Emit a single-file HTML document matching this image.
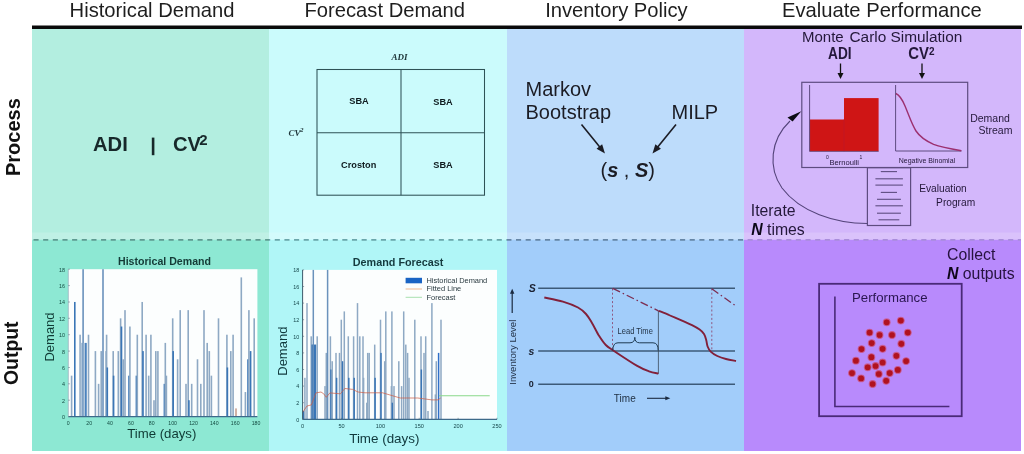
<!DOCTYPE html>
<html><head><meta charset="utf-8"><style>
html,body{margin:0;padding:0;background:#fff;width:1024px;height:454px;overflow:hidden}
svg{display:block;filter:blur(0.3px)}
text{font-family:"Liberation Sans", sans-serif}
</style></head><body>
<svg width="1024" height="454" viewBox="0 0 1024 454">
<rect x="0" y="0" width="1024" height="454" fill="#ffffff"/>

<rect x="32" y="29" width="237" height="211" fill="#b3eee0"/>
<rect x="32" y="240" width="237" height="211" fill="#8de8d3"/>
<rect x="269" y="29" width="238" height="211" fill="#cbfbfc"/>
<rect x="269" y="240" width="238" height="211" fill="#b0f6f7"/>
<rect x="507" y="29" width="237" height="211" fill="#bddcfb"/>
<rect x="507" y="240" width="237" height="211" fill="#a2cdfa"/>
<rect x="744" y="29" width="277" height="211" fill="#d3b7fb"/>
<rect x="744" y="240" width="277" height="211" fill="#b88afc"/>
<rect x="32" y="25.5" width="990" height="3.5" fill="#0a0a0a"/>
<text x="69.6" y="17" font-size="20.2" fill="#1e1e1e">Historical Demand</text>
<text x="304.5" y="17" font-size="20.2" fill="#1e1e1e">Forecast Demand</text>
<text x="545.2" y="17" font-size="20.2" fill="#1e1e1e">Inventory Policy</text>
<text x="782" y="17" font-size="20.2" fill="#1e1e1e">Evaluate Performance</text>
<rect x="32" y="232.5" width="989" height="6.5" fill="#ffffff" fill-opacity="0.16"/>
<line x1="32" y1="239.8" x2="269" y2="239.8" stroke="#5f9a91" stroke-width="1.8" stroke-dasharray="5.1 4.55" stroke-dashoffset="8.15"/>
<line x1="269" y1="239.8" x2="507" y2="239.8" stroke="#6aa6ab" stroke-width="1.8" stroke-dasharray="5.1 4.55" stroke-dashoffset="3.90"/>
<line x1="507" y1="239.8" x2="744" y2="239.8" stroke="#6686a6" stroke-width="1.8" stroke-dasharray="5.1 4.55" stroke-dashoffset="0.65"/>
<line x1="744" y1="239.8" x2="1021" y2="239.8" stroke="#a98ddb" stroke-width="1.8" stroke-dasharray="5.1 4.55" stroke-dashoffset="6.05"/>
<text transform="translate(19.6,176) rotate(-90)" font-size="20" font-weight="bold" fill="#111">Process</text>
<text transform="translate(17.8,385) rotate(-90)" font-size="19.4" font-weight="bold" fill="#111">Output</text>
<text x="93" y="151.2" font-size="20.2" font-weight="bold" fill="#17282a">ADI</text>
<rect x="151.8" y="137.6" width="2.6" height="17.6" fill="#17282a"/>
<text x="173" y="151.2" font-size="20.2" font-weight="bold" fill="#17282a">CV</text>
<text x="199.2" y="145.4" font-size="15" font-weight="bold" fill="#17282a">2</text>
<rect x="317" y="69.5" width="167.5" height="125.7" fill="none" stroke="#2e5256" stroke-width="1.05"/>
<line x1="401" y1="69.5" x2="401" y2="195.2" stroke="#2e5256" stroke-width="1.05"/>
<line x1="317" y1="132.8" x2="484.5" y2="132.8" stroke="#2e5256" stroke-width="1.05"/>
<text x="391.5" y="60" font-size="9" font-weight="bold" font-style="italic" fill="#1e3438" style="font-family:'Liberation Serif',serif">ADI</text>
<text x="288.5" y="136.3" font-size="9" font-weight="bold" font-style="italic" fill="#1e3438" style="font-family:'Liberation Serif',serif">CV</text>
<text x="300" y="132" font-size="7" font-weight="bold" font-style="italic" fill="#1e3438" style="font-family:'Liberation Serif',serif">2</text>
<text x="359" y="104.4" font-size="9.2" font-weight="bold" fill="#0e1a1e" text-anchor="middle">SBA</text>
<text x="443" y="104.6" font-size="9.2" font-weight="bold" fill="#0e1a1e" text-anchor="middle">SBA</text>
<text x="358.7" y="168" font-size="9.2" font-weight="bold" fill="#0e1a1e" text-anchor="middle">Croston</text>
<text x="443" y="168" font-size="9.2" font-weight="bold" fill="#0e1a1e" text-anchor="middle">SBA</text>
<text x="525.5" y="96.1" font-size="20" fill="#1b1c24">Markov</text>
<text x="525.5" y="119.2" font-size="20" fill="#1b1c24">Bootstrap</text>
<text x="671.5" y="119.2" font-size="20" fill="#1b1c24">MILP</text>
<line x1="581.5" y1="124.5" x2="599.96" y2="147.28" stroke="#1b1c24" stroke-width="1.6"/><polygon points="605.00,153.50 596.54,148.77 602.13,144.24" fill="#1b1c24"/>
<line x1="676" y1="124.5" x2="657.54" y2="147.28" stroke="#1b1c24" stroke-width="1.6"/><polygon points="652.50,153.50 655.37,144.24 660.96,148.77" fill="#1b1c24"/>
<text x="600.5" y="177" font-size="20" fill="#1b1c24">(<tspan font-weight="bold" font-style="italic">s</tspan> , <tspan font-weight="bold" font-style="italic">S</tspan>)</text>
<text x="802" y="41.6" font-size="15" fill="#24183a">Monte</text>
<text x="849.5" y="41.6" font-size="15.4" fill="#24183a">Carlo Simulation</text>
<text transform="translate(828,58.8) scale(1,1.18)" font-size="13.7" font-weight="bold" fill="#24183a">ADI</text>
<text transform="translate(908.2,59.2) scale(1,1.1)" font-size="14.9" font-weight="bold" fill="#24183a">CV</text>
<text x="929" y="54.8" font-size="10" font-weight="bold" fill="#24183a">2</text>
<line x1="840.5" y1="63.5" x2="840.50" y2="74.00" stroke="#111" stroke-width="1.3"/><polygon points="840.50,79.00 837.50,73.00 843.50,73.00" fill="#111"/>
<line x1="922" y1="63.5" x2="922.00" y2="74.00" stroke="#111" stroke-width="1.3"/><polygon points="922.00,79.00 919.00,73.00 925.00,73.00" fill="#111"/>
<rect x="801.8" y="82.3" width="165.9" height="85.2" fill="none" stroke="#5e4c80" stroke-width="1.2"/>
<rect x="809.6" y="119.5" width="34.4" height="31.9" fill="#cf1515"/>
<rect x="844" y="98.1" width="34.6" height="53.3" fill="#cf1515"/>
<line x1="844" y1="119.5" x2="844" y2="151.4" stroke="#b81a30" stroke-width="0.6"/>
<line x1="809.6" y1="85" x2="809.6" y2="151.4" stroke="#5e4c80" stroke-width="1"/>
<line x1="809.6" y1="151.4" x2="878.6" y2="151.4" stroke="#5e4c80" stroke-width="0.8"/>
<text x="827.3" y="158.6" font-size="5" fill="#24183a" text-anchor="middle">0</text>
<text x="861" y="158.6" font-size="5" fill="#24183a" text-anchor="middle">1</text>
<text x="829.5" y="165.4" font-size="7.6" fill="#24183a">Bernoulli</text>
<path d="M895.6 85 V151 H961.4" fill="none" stroke="#5e4c80" stroke-width="1"/>
<path d="M895.9 93.5 C899 95, 901.5 97.5, 904.9 105.8 C908 113, 912 125, 916 131 C920 137, 925 140.5, 933.6 144.4 C941 147, 950 148.7, 961.4 150.8" fill="none" stroke="#9c3070" stroke-width="1.4"/>
<text x="898.7" y="163.3" font-size="7" fill="#24183a">Negative Binomial</text>
<text x="970.2" y="122" font-size="10.5" fill="#24183a">Demand</text>
<text x="978.6" y="134.2" font-size="10.5" fill="#24183a">Stream</text>
<rect x="867.4" y="167.7" width="43.2" height="57.8" fill="none" stroke="#5e4c80" stroke-width="1.2"/>
<line x1="880.8" y1="171.6" x2="897" y2="171.6" stroke="#5e4c80" stroke-width="1.1"/>
<line x1="875.4" y1="178.8" x2="902.9" y2="178.8" stroke="#5e4c80" stroke-width="1.1"/>
<line x1="875.4" y1="185.1" x2="902.9" y2="185.1" stroke="#5e4c80" stroke-width="1.1"/>
<line x1="880.8" y1="192.4" x2="897" y2="192.4" stroke="#5e4c80" stroke-width="1.1"/>
<line x1="877" y1="199.3" x2="900.9" y2="199.3" stroke="#5e4c80" stroke-width="1.1"/>
<line x1="875.4" y1="205.8" x2="902.9" y2="205.8" stroke="#5e4c80" stroke-width="1.1"/>
<line x1="877" y1="213.2" x2="900.9" y2="213.2" stroke="#5e4c80" stroke-width="1.1"/>
<line x1="878.5" y1="219.8" x2="899.3" y2="219.8" stroke="#5e4c80" stroke-width="1.1"/>
<text x="919.2" y="192.4" font-size="10.2" fill="#24183a">Evaluation</text>
<text x="936.1" y="205.5" font-size="10.2" fill="#24183a">Program</text>
<text x="750.8" y="215.6" font-size="15.8" fill="#24183a">Iterate</text>
<text x="751.2" y="234.8" font-size="15.8" fill="#24183a"><tspan font-weight="bold" font-style="italic" fill="#0c0818">N</tspan> times</text>
<path d="M867.4 223.5 C835 223.5, 800 212, 782 188 C768 168, 770 140, 790 121" fill="none" stroke="#54447a" stroke-width="1.1"/>
<polygon points="801.3,111.2 787.5,117.4 792.6,121.6" fill="#0c0c14"/>
<rect x="68.3" y="269.2" width="189.09999999999997" height="147.40000000000003" fill="#fcfefe"/>
<rect x="70.80" y="375.66" width="1.6" height="40.94" fill="#8ea9c4"/>
<rect x="74.00" y="301.96" width="1.6" height="114.64" fill="#3a76b6"/>
<rect x="79.30" y="334.71" width="1.6" height="81.89" fill="#8ea9c4"/>
<rect x="80.80" y="342.90" width="1.6" height="73.70" fill="#b0c6dc"/>
<rect x="81.60" y="342.90" width="1.6" height="73.70" fill="#b0c6dc"/>
<rect x="82.30" y="269.20" width="1.6" height="147.40" fill="#6a92bc"/>
<rect x="83.60" y="342.90" width="1.6" height="73.70" fill="#b0c6dc"/>
<rect x="85.10" y="342.90" width="1.6" height="73.70" fill="#3a76b6"/>
<rect x="87.70" y="334.71" width="1.6" height="81.89" fill="#8ea9c4"/>
<rect x="94.60" y="351.09" width="1.6" height="65.51" fill="#8ea9c4"/>
<rect x="97.80" y="383.84" width="1.6" height="32.76" fill="#8ea9c4"/>
<rect x="100.40" y="351.09" width="1.6" height="65.51" fill="#8ea9c4"/>
<rect x="102.20" y="269.20" width="1.6" height="147.40" fill="#6a92bc"/>
<rect x="105.30" y="351.09" width="1.6" height="65.51" fill="#8ea9c4"/>
<rect x="105.80" y="334.71" width="1.6" height="81.89" fill="#8ea9c4"/>
<rect x="106.50" y="367.47" width="1.6" height="49.13" fill="#3a76b6"/>
<rect x="112.40" y="351.09" width="1.6" height="65.51" fill="#8ea9c4"/>
<rect x="112.80" y="375.66" width="1.6" height="40.94" fill="#3a76b6"/>
<rect x="117.50" y="351.09" width="1.6" height="65.51" fill="#8ea9c4"/>
<rect x="119.80" y="318.33" width="1.6" height="98.27" fill="#8ea9c4"/>
<rect x="120.70" y="326.52" width="1.6" height="90.08" fill="#3a76b6"/>
<rect x="122.40" y="359.28" width="1.6" height="57.32" fill="#8ea9c4"/>
<rect x="124.20" y="310.14" width="1.6" height="106.46" fill="#8ea9c4"/>
<rect x="128.20" y="375.66" width="1.6" height="40.94" fill="#3a76b6"/>
<rect x="129.10" y="326.52" width="1.6" height="90.08" fill="#8ea9c4"/>
<rect x="135.60" y="375.66" width="1.6" height="40.94" fill="#3a76b6"/>
<rect x="136.50" y="334.71" width="1.6" height="81.89" fill="#8ea9c4"/>
<rect x="141.40" y="301.96" width="1.6" height="114.64" fill="#8ea9c4"/>
<rect x="142.20" y="351.09" width="1.6" height="65.51" fill="#3a76b6"/>
<rect x="145.30" y="334.71" width="1.6" height="81.89" fill="#8ea9c4"/>
<rect x="147.90" y="375.66" width="1.6" height="40.94" fill="#8ea9c4"/>
<rect x="150.10" y="334.71" width="1.6" height="81.89" fill="#8ea9c4"/>
<rect x="153.20" y="400.22" width="1.6" height="16.38" fill="#8ea9c4"/>
<rect x="155.00" y="351.09" width="1.6" height="65.51" fill="#8ea9c4"/>
<rect x="157.10" y="351.09" width="1.6" height="65.51" fill="#8ea9c4"/>
<rect x="163.60" y="383.84" width="1.6" height="32.76" fill="#3a76b6"/>
<rect x="164.50" y="342.90" width="1.6" height="73.70" fill="#8ea9c4"/>
<rect x="165.60" y="375.66" width="1.6" height="40.94" fill="#8ea9c4"/>
<rect x="171.90" y="318.33" width="1.6" height="98.27" fill="#8ea9c4"/>
<rect x="172.40" y="351.09" width="1.6" height="65.51" fill="#3a76b6"/>
<rect x="176.80" y="359.28" width="1.6" height="57.32" fill="#8ea9c4"/>
<rect x="179.40" y="310.14" width="1.6" height="106.46" fill="#8ea9c4"/>
<rect x="185.20" y="383.84" width="1.6" height="32.76" fill="#8ea9c4"/>
<rect x="187.40" y="310.14" width="1.6" height="106.46" fill="#8ea9c4"/>
<rect x="188.10" y="400.22" width="1.6" height="16.38" fill="#3a76b6"/>
<rect x="190.90" y="383.84" width="1.6" height="32.76" fill="#8ea9c4"/>
<rect x="196.70" y="359.28" width="1.6" height="57.32" fill="#8ea9c4"/>
<rect x="200.00" y="383.84" width="1.6" height="32.76" fill="#8ea9c4"/>
<rect x="203.20" y="310.14" width="1.6" height="106.46" fill="#8ea9c4"/>
<rect x="206.40" y="342.90" width="1.6" height="73.70" fill="#8ea9c4"/>
<rect x="208.50" y="351.09" width="1.6" height="65.51" fill="#8ea9c4"/>
<rect x="210.60" y="375.66" width="1.6" height="40.94" fill="#8ea9c4"/>
<rect x="217.70" y="318.33" width="1.6" height="98.27" fill="#8ea9c4"/>
<rect x="226.10" y="334.71" width="1.6" height="81.89" fill="#8ea9c4"/>
<rect x="226.60" y="367.47" width="1.6" height="49.13" fill="#3a76b6"/>
<rect x="230.00" y="351.09" width="1.6" height="65.51" fill="#8ea9c4"/>
<rect x="232.30" y="334.71" width="1.6" height="81.89" fill="#8ea9c4"/>
<rect x="235.20" y="408.41" width="1.6" height="8.19" fill="#c8a090"/>
<rect x="240.50" y="277.39" width="1.6" height="139.21" fill="#8ea9c4"/>
<rect x="244.60" y="392.03" width="1.6" height="24.57" fill="#8ea9c4"/>
<rect x="247.20" y="359.28" width="1.6" height="57.32" fill="#3a76b6"/>
<rect x="248.10" y="310.14" width="1.6" height="106.46" fill="#8ea9c4"/>
<rect x="249.80" y="351.09" width="1.6" height="65.51" fill="#3a76b6"/>
<rect x="253.40" y="318.33" width="1.6" height="98.27" fill="#8ea9c4"/>
<line x1="68.3" y1="416.6" x2="257.4" y2="416.6" stroke="#3d6a8a" stroke-width="1.3"/>
<line x1="68.3" y1="269.2" x2="68.3" y2="416.6" stroke="#a0b4c0" stroke-width="0.8"/>
<text x="65" y="419.0" font-size="5.4" fill="#134a40" text-anchor="end">0</text>
<line x1="68.3" y1="416.6" x2="69.8" y2="416.6" stroke="#50707a" stroke-width="0.6"/>
<text x="65" y="402.6" font-size="5.4" fill="#134a40" text-anchor="end">2</text>
<line x1="68.3" y1="400.2" x2="69.8" y2="400.2" stroke="#50707a" stroke-width="0.6"/>
<text x="65" y="386.2" font-size="5.4" fill="#134a40" text-anchor="end">4</text>
<line x1="68.3" y1="383.8" x2="69.8" y2="383.8" stroke="#50707a" stroke-width="0.6"/>
<text x="65" y="369.9" font-size="5.4" fill="#134a40" text-anchor="end">6</text>
<line x1="68.3" y1="367.5" x2="69.8" y2="367.5" stroke="#50707a" stroke-width="0.6"/>
<text x="65" y="353.5" font-size="5.4" fill="#134a40" text-anchor="end">8</text>
<line x1="68.3" y1="351.1" x2="69.8" y2="351.1" stroke="#50707a" stroke-width="0.6"/>
<text x="65" y="337.1" font-size="5.4" fill="#134a40" text-anchor="end">10</text>
<line x1="68.3" y1="334.7" x2="69.8" y2="334.7" stroke="#50707a" stroke-width="0.6"/>
<text x="65" y="320.7" font-size="5.4" fill="#134a40" text-anchor="end">12</text>
<line x1="68.3" y1="318.3" x2="69.8" y2="318.3" stroke="#50707a" stroke-width="0.6"/>
<text x="65" y="304.4" font-size="5.4" fill="#134a40" text-anchor="end">14</text>
<line x1="68.3" y1="302.0" x2="69.8" y2="302.0" stroke="#50707a" stroke-width="0.6"/>
<text x="65" y="288.0" font-size="5.4" fill="#134a40" text-anchor="end">16</text>
<line x1="68.3" y1="285.6" x2="69.8" y2="285.6" stroke="#50707a" stroke-width="0.6"/>
<text x="65" y="271.6" font-size="5.4" fill="#134a40" text-anchor="end">18</text>
<line x1="68.3" y1="269.2" x2="69.8" y2="269.2" stroke="#50707a" stroke-width="0.6"/>
<text x="68.3" y="424.8" font-size="5.2" fill="#134a40" text-anchor="middle">0</text>
<text x="89.2" y="424.8" font-size="5.2" fill="#134a40" text-anchor="middle">20</text>
<text x="110.0" y="424.8" font-size="5.2" fill="#134a40" text-anchor="middle">40</text>
<text x="130.9" y="424.8" font-size="5.2" fill="#134a40" text-anchor="middle">60</text>
<text x="151.7" y="424.8" font-size="5.2" fill="#134a40" text-anchor="middle">80</text>
<text x="172.6" y="424.8" font-size="5.2" fill="#134a40" text-anchor="middle">100</text>
<text x="193.5" y="424.8" font-size="5.2" fill="#134a40" text-anchor="middle">120</text>
<text x="214.3" y="424.8" font-size="5.2" fill="#134a40" text-anchor="middle">140</text>
<text x="235.2" y="424.8" font-size="5.2" fill="#134a40" text-anchor="middle">160</text>
<text x="256.0" y="424.8" font-size="5.2" fill="#134a40" text-anchor="middle">180</text>
<text x="164.5" y="264.8" font-size="10.6" font-weight="bold" fill="#143a36" text-anchor="middle">Historical Demand</text>
<text x="161.8" y="437.6" font-size="13.2" fill="#0f3a34" text-anchor="middle">Time (days)</text>
<text transform="translate(54.2,337) rotate(-90)" font-size="13" fill="#0f3a34" text-anchor="middle">Demand</text>
<rect x="302.6" y="269.9" width="194.39999999999998" height="149.40000000000003" fill="#fcfefe"/>
<rect x="302.65" y="411.00" width="1.5" height="8.30" fill="#3a76b6"/>
<rect x="304.15" y="377.80" width="1.5" height="41.50" fill="#8ea9c4"/>
<rect x="306.25" y="303.10" width="1.5" height="116.20" fill="#8ea9c4"/>
<rect x="310.45" y="336.30" width="1.5" height="83.00" fill="#8ea9c4"/>
<rect x="311.45" y="344.60" width="1.5" height="74.70" fill="#3a76b6"/>
<rect x="312.25" y="344.60" width="1.5" height="74.70" fill="#3a76b6"/>
<rect x="312.55" y="269.90" width="1.5" height="149.40" fill="#6a92bc"/>
<rect x="313.85" y="344.60" width="1.5" height="74.70" fill="#3a76b6"/>
<rect x="314.75" y="344.60" width="1.5" height="74.70" fill="#3a76b6"/>
<rect x="316.45" y="336.30" width="1.5" height="83.00" fill="#8ea9c4"/>
<rect x="324.25" y="386.10" width="1.5" height="33.20" fill="#8ea9c4"/>
<rect x="325.55" y="352.90" width="1.5" height="66.40" fill="#8ea9c4"/>
<rect x="326.85" y="269.90" width="1.5" height="149.40" fill="#6a92bc"/>
<rect x="329.65" y="336.30" width="1.5" height="83.00" fill="#8ea9c4"/>
<rect x="330.25" y="369.50" width="1.5" height="49.80" fill="#3a76b6"/>
<rect x="331.45" y="361.20" width="1.5" height="58.10" fill="#8ea9c4"/>
<rect x="335.25" y="352.90" width="1.5" height="66.40" fill="#8ea9c4"/>
<rect x="335.85" y="377.80" width="1.5" height="41.50" fill="#3a76b6"/>
<rect x="338.75" y="352.90" width="1.5" height="66.40" fill="#8ea9c4"/>
<rect x="340.55" y="319.70" width="1.5" height="99.60" fill="#8ea9c4"/>
<rect x="341.85" y="361.20" width="1.5" height="58.10" fill="#3a76b6"/>
<rect x="343.55" y="311.40" width="1.5" height="107.90" fill="#8ea9c4"/>
<rect x="347.55" y="336.30" width="1.5" height="83.00" fill="#8ea9c4"/>
<rect x="348.05" y="377.80" width="1.5" height="41.50" fill="#3a76b6"/>
<rect x="352.85" y="336.30" width="1.5" height="83.00" fill="#8ea9c4"/>
<rect x="353.45" y="377.80" width="1.5" height="41.50" fill="#3a76b6"/>
<rect x="356.75" y="303.10" width="1.5" height="116.20" fill="#8ea9c4"/>
<rect x="359.05" y="336.30" width="1.5" height="83.00" fill="#8ea9c4"/>
<rect x="362.25" y="336.30" width="1.5" height="83.00" fill="#8ea9c4"/>
<rect x="362.85" y="377.80" width="1.5" height="41.50" fill="#8ea9c4"/>
<rect x="366.05" y="402.70" width="1.5" height="16.60" fill="#8ea9c4"/>
<rect x="366.95" y="352.90" width="1.5" height="66.40" fill="#8ea9c4"/>
<rect x="368.45" y="352.90" width="1.5" height="66.40" fill="#8ea9c4"/>
<rect x="373.95" y="344.60" width="1.5" height="74.70" fill="#8ea9c4"/>
<rect x="374.35" y="377.80" width="1.5" height="41.50" fill="#3a76b6"/>
<rect x="379.75" y="319.70" width="1.5" height="99.60" fill="#8ea9c4"/>
<rect x="380.25" y="352.90" width="1.5" height="66.40" fill="#3a76b6"/>
<rect x="383.95" y="361.20" width="1.5" height="58.10" fill="#8ea9c4"/>
<rect x="385.05" y="311.40" width="1.5" height="107.90" fill="#8ea9c4"/>
<rect x="390.65" y="386.10" width="1.5" height="33.20" fill="#8ea9c4"/>
<rect x="391.15" y="311.40" width="1.5" height="107.90" fill="#8ea9c4"/>
<rect x="391.65" y="402.70" width="1.5" height="16.60" fill="#3a76b6"/>
<rect x="393.25" y="386.10" width="1.5" height="33.20" fill="#8ea9c4"/>
<rect x="398.05" y="361.20" width="1.5" height="58.10" fill="#8ea9c4"/>
<rect x="400.85" y="386.10" width="1.5" height="33.20" fill="#8ea9c4"/>
<rect x="402.95" y="311.40" width="1.5" height="107.90" fill="#8ea9c4"/>
<rect x="405.05" y="344.60" width="1.5" height="74.70" fill="#8ea9c4"/>
<rect x="406.85" y="352.90" width="1.5" height="66.40" fill="#8ea9c4"/>
<rect x="408.25" y="377.80" width="1.5" height="41.50" fill="#8ea9c4"/>
<rect x="414.05" y="319.70" width="1.5" height="99.60" fill="#8ea9c4"/>
<rect x="420.25" y="336.30" width="1.5" height="83.00" fill="#8ea9c4"/>
<rect x="420.65" y="369.50" width="1.5" height="49.80" fill="#3a76b6"/>
<rect x="423.25" y="352.90" width="1.5" height="66.40" fill="#8ea9c4"/>
<rect x="424.95" y="336.30" width="1.5" height="83.00" fill="#8ea9c4"/>
<rect x="427.25" y="411.00" width="1.5" height="8.30" fill="#8ea9c4"/>
<rect x="431.15" y="303.10" width="1.5" height="116.20" fill="#8ea9c4"/>
<rect x="434.65" y="394.40" width="1.5" height="24.90" fill="#8ea9c4"/>
<rect x="435.55" y="361.20" width="1.5" height="58.10" fill="#8ea9c4"/>
<rect x="437.85" y="352.90" width="1.5" height="66.40" fill="#2f6fc8"/>
<rect x="440.25" y="319.70" width="1.5" height="99.60" fill="#8ea9c4"/>
<polyline points="302.6,412.3 307,406 311.4,404.9 314,398 316,392.9 321,392 323.7,393.8 326.3,397.3 329.9,392.9 340.4,393.8 344.8,388.5 352.7,389.4 358,392 365,392.8 382.6,392.8 400.2,398 417.8,398 431.9,399.9 438,399.9 440.7,398" fill="none" stroke="#cc5a42" stroke-width="0.7"/>
<line x1="438.9" y1="395.7" x2="489.7" y2="395.7" stroke="#8ad88a" stroke-width="1.1"/>
<line x1="302.6" y1="419.3" x2="497.0" y2="419.3" stroke="#3d6a8a" stroke-width="1.3"/>
<line x1="302.6" y1="269.9" x2="302.6" y2="419.3" stroke="#3d5a6a" stroke-width="1"/>
<text x="299.3" y="421.5" font-size="5.4" fill="#15464a" text-anchor="end">0</text>
<line x1="302.6" y1="419.3" x2="304.1" y2="419.3" stroke="#50707a" stroke-width="0.6"/>
<text x="299.3" y="404.9" font-size="5.4" fill="#15464a" text-anchor="end">2</text>
<line x1="302.6" y1="402.7" x2="304.1" y2="402.7" stroke="#50707a" stroke-width="0.6"/>
<text x="299.3" y="388.3" font-size="5.4" fill="#15464a" text-anchor="end">4</text>
<line x1="302.6" y1="386.1" x2="304.1" y2="386.1" stroke="#50707a" stroke-width="0.6"/>
<text x="299.3" y="371.7" font-size="5.4" fill="#15464a" text-anchor="end">6</text>
<line x1="302.6" y1="369.5" x2="304.1" y2="369.5" stroke="#50707a" stroke-width="0.6"/>
<text x="299.3" y="355.1" font-size="5.4" fill="#15464a" text-anchor="end">8</text>
<line x1="302.6" y1="352.9" x2="304.1" y2="352.9" stroke="#50707a" stroke-width="0.6"/>
<text x="299.3" y="338.5" font-size="5.4" fill="#15464a" text-anchor="end">10</text>
<line x1="302.6" y1="336.3" x2="304.1" y2="336.3" stroke="#50707a" stroke-width="0.6"/>
<text x="299.3" y="321.9" font-size="5.4" fill="#15464a" text-anchor="end">12</text>
<line x1="302.6" y1="319.7" x2="304.1" y2="319.7" stroke="#50707a" stroke-width="0.6"/>
<text x="299.3" y="305.3" font-size="5.4" fill="#15464a" text-anchor="end">14</text>
<line x1="302.6" y1="303.1" x2="304.1" y2="303.1" stroke="#50707a" stroke-width="0.6"/>
<text x="299.3" y="288.7" font-size="5.4" fill="#15464a" text-anchor="end">16</text>
<line x1="302.6" y1="286.5" x2="304.1" y2="286.5" stroke="#50707a" stroke-width="0.6"/>
<text x="299.3" y="272.1" font-size="5.4" fill="#15464a" text-anchor="end">18</text>
<line x1="302.6" y1="269.9" x2="304.1" y2="269.9" stroke="#50707a" stroke-width="0.6"/>
<text x="302.6" y="428.2" font-size="5.6" fill="#15464a" text-anchor="middle">0</text>
<line x1="302.6" y1="419.3" x2="302.6" y2="417.8" stroke="#50707a" stroke-width="0.6"/>
<text x="341.5" y="428.2" font-size="5.6" fill="#15464a" text-anchor="middle">50</text>
<line x1="341.5" y1="419.3" x2="341.5" y2="417.8" stroke="#50707a" stroke-width="0.6"/>
<text x="380.4" y="428.2" font-size="5.6" fill="#15464a" text-anchor="middle">100</text>
<line x1="380.4" y1="419.3" x2="380.4" y2="417.8" stroke="#50707a" stroke-width="0.6"/>
<text x="419.2" y="428.2" font-size="5.6" fill="#15464a" text-anchor="middle">150</text>
<line x1="419.2" y1="419.3" x2="419.2" y2="417.8" stroke="#50707a" stroke-width="0.6"/>
<text x="458.1" y="428.2" font-size="5.6" fill="#15464a" text-anchor="middle">200</text>
<line x1="458.1" y1="419.3" x2="458.1" y2="417.8" stroke="#50707a" stroke-width="0.6"/>
<text x="497.0" y="428.2" font-size="5.6" fill="#15464a" text-anchor="middle">250</text>
<line x1="497.0" y1="419.3" x2="497.0" y2="417.8" stroke="#50707a" stroke-width="0.6"/>
<text x="398.1" y="265.8" font-size="10.8" font-weight="bold" fill="#143a3e" text-anchor="middle">Demand Forecast</text>
<text x="384.3" y="442.5" font-size="13.4" fill="#0f383c" text-anchor="middle">Time (days)</text>
<text transform="translate(287.4,351.2) rotate(-90)" font-size="13" fill="#0f383c" text-anchor="middle">Demand</text>
<rect x="405.6" y="277.8" width="16.4" height="5.5" fill="#1a64c4"/>
<line x1="405.6" y1="289" x2="422" y2="289" stroke="#f0b890" stroke-width="1"/>
<line x1="405.6" y1="297.3" x2="422" y2="297.3" stroke="#a8e0b0" stroke-width="1"/>
<text x="426.5" y="282.7" font-size="7.45" fill="#2a3a40">Historical Demand</text>
<text x="426.5" y="291.3" font-size="7.45" fill="#2a3a40">Fitted Line</text>
<text x="426.5" y="299.8" font-size="7.45" fill="#2a3a40">Forecast</text>
<line x1="538.2" y1="288.3" x2="735" y2="288.3" stroke="#3c5a78" stroke-width="1.5"/>
<line x1="538.2" y1="351.1" x2="735" y2="351.1" stroke="#3c5a78" stroke-width="1.5"/>
<line x1="538.2" y1="384.3" x2="735" y2="384.3" stroke="#3c5a78" stroke-width="1.5"/>
<text x="532.3" y="291.8" font-size="10.5" font-weight="bold" font-style="italic" fill="#1a2030" text-anchor="middle">S</text>
<text x="531.5" y="354.8" font-size="10.5" font-weight="bold" font-style="italic" fill="#1a2030" text-anchor="middle">s</text>
<text x="531.2" y="387.3" font-size="9" font-weight="bold" fill="#1a2030" text-anchor="middle">0</text>
<text transform="translate(516.2,352.2) rotate(-90)" font-size="9.6" fill="#24344a" text-anchor="middle">Inventory Level</text>
<line x1="512.2" y1="313" x2="512.20" y2="292.80" stroke="#1a2a40" stroke-width="1.2"/><polygon points="512.20,288.80 514.40,293.80 510.00,293.80" fill="#1a2a40"/>
<text x="624.8" y="402.2" font-size="10" fill="#1e2e40" text-anchor="middle">Time</text>
<line x1="647" y1="398.3" x2="666.30" y2="398.30" stroke="#1a2a40" stroke-width="1.1"/><polygon points="670.30,398.30 665.30,400.30 665.30,396.30" fill="#1a2a40"/>
<line x1="612.5" y1="288.5" x2="612.5" y2="351" stroke="#8a3a62" stroke-width="0.8" stroke-dasharray="2 2.2"/>
<line x1="711.8" y1="288.5" x2="711.8" y2="351" stroke="#8a3a62" stroke-width="0.8" stroke-dasharray="2 2.2"/>
<line x1="612.8" y1="288.4" x2="658.4" y2="310.8" stroke="#7c2c50" stroke-width="1.3" stroke-dasharray="8 3 1.5 3"/>
<line x1="711.8" y1="288.8" x2="735" y2="305.3" stroke="#7c2c50" stroke-width="1.3" stroke-dasharray="8 3 1.5 3"/>
<line x1="658.4" y1="310.8" x2="658.4" y2="373.8" stroke="#3a4a5a" stroke-width="0.8"/>
<path d="M544.30 297.50 C547.40 298.18 557.28 299.93 562.90 301.60 C568.52 303.27 574.15 305.43 578.00 307.50 C581.85 309.57 583.67 311.42 586.00 314.00 C588.33 316.58 589.80 319.32 592.00 323.00 C594.20 326.68 596.90 332.43 599.20 336.10 C601.50 339.77 603.32 342.52 605.80 345.00 C608.28 347.48 608.87 347.52 614.10 351.00 C619.33 354.48 631.38 362.52 637.20 365.90 C643.02 369.28 645.47 370.02 649.00 371.30 C652.53 372.58 656.83 373.22 658.40 373.60" fill="none" stroke="#82203a" stroke-width="1.9"/>
<path d="M658.60 310.80 C660.50 311.58 666.10 313.85 670.00 315.50 C673.90 317.15 678.33 319.08 682.00 320.70 C685.67 322.32 689.07 323.72 692.00 325.20 C694.93 326.68 697.60 328.13 699.60 329.60 C701.60 331.07 702.90 332.27 704.00 334.00 C705.10 335.73 705.60 337.92 706.20 340.00 C706.80 342.08 706.85 344.57 707.60 346.50 C708.35 348.43 709.08 350.02 710.70 351.60 C712.32 353.18 714.75 354.77 717.30 356.00 C719.85 357.23 722.88 358.17 726.00 359.00 C729.12 359.83 734.33 360.67 736.00 361.00" fill="none" stroke="#82203a" stroke-width="1.9"/>
<path d="M612.8 350.5 Q612.8 342.8 618 342.8 L630 342.8 Q634.8 342.8 634.8 337.3 Q634.8 342.8 639.6 342.8 L653 342.8 Q658.2 342.8 658.2 350.5" fill="none" stroke="#1e3a52" stroke-width="1"/>
<text transform="translate(635.2,333.6) scale(0.86,1)" font-size="8.8" fill="#1e2e40" text-anchor="middle">Lead Time</text>
<text x="947" y="260.4" font-size="15.8" fill="#26123e">Collect</text>
<text x="947" y="279.4" font-size="15.8" fill="#26123e"><tspan font-weight="bold" font-style="italic" fill="#0e0618">N</tspan> outputs</text>
<rect x="819.1" y="283.8" width="142.6" height="132.4" fill="none" stroke="#4a2a78" stroke-width="1.8"/>
<path d="M834.9 296.4 V406.5 H949.4" fill="none" stroke="#4a2a78" stroke-width="1.6"/>
<text x="852" y="301.7" font-size="13.2" fill="#2a1650">Performance</text>
<circle cx="886.7" cy="322.3" r="3.4" fill="#b01220" stroke="#cc5a8c" stroke-width="1.1" stroke-opacity="0.8"/>
<circle cx="900.8" cy="320.6" r="3.4" fill="#b01220" stroke="#cc5a8c" stroke-width="1.1" stroke-opacity="0.8"/>
<circle cx="869.6" cy="332.6" r="3.4" fill="#b01220" stroke="#cc5a8c" stroke-width="1.1" stroke-opacity="0.8"/>
<circle cx="879.6" cy="335" r="3.4" fill="#b01220" stroke="#cc5a8c" stroke-width="1.1" stroke-opacity="0.8"/>
<circle cx="892" cy="335" r="3.4" fill="#b01220" stroke="#cc5a8c" stroke-width="1.1" stroke-opacity="0.8"/>
<circle cx="907.8" cy="332.6" r="3.4" fill="#b01220" stroke="#cc5a8c" stroke-width="1.1" stroke-opacity="0.8"/>
<circle cx="871.7" cy="343.1" r="3.4" fill="#b01220" stroke="#cc5a8c" stroke-width="1.1" stroke-opacity="0.8"/>
<circle cx="901.3" cy="343.8" r="3.4" fill="#b01220" stroke="#cc5a8c" stroke-width="1.1" stroke-opacity="0.8"/>
<circle cx="861.5" cy="349.1" r="3.4" fill="#b01220" stroke="#cc5a8c" stroke-width="1.1" stroke-opacity="0.8"/>
<circle cx="882.6" cy="348.8" r="3.4" fill="#b01220" stroke="#cc5a8c" stroke-width="1.1" stroke-opacity="0.8"/>
<circle cx="871.4" cy="357.2" r="3.4" fill="#b01220" stroke="#cc5a8c" stroke-width="1.1" stroke-opacity="0.8"/>
<circle cx="896.4" cy="355.8" r="3.4" fill="#b01220" stroke="#cc5a8c" stroke-width="1.1" stroke-opacity="0.8"/>
<circle cx="855.9" cy="360.7" r="3.4" fill="#b01220" stroke="#cc5a8c" stroke-width="1.1" stroke-opacity="0.8"/>
<circle cx="882.6" cy="362.5" r="3.4" fill="#b01220" stroke="#cc5a8c" stroke-width="1.1" stroke-opacity="0.8"/>
<circle cx="906.1" cy="361.1" r="3.4" fill="#b01220" stroke="#cc5a8c" stroke-width="1.1" stroke-opacity="0.8"/>
<circle cx="867.7" cy="367.3" r="3.4" fill="#b01220" stroke="#cc5a8c" stroke-width="1.1" stroke-opacity="0.8"/>
<circle cx="875.6" cy="366" r="3.4" fill="#b01220" stroke="#cc5a8c" stroke-width="1.1" stroke-opacity="0.8"/>
<circle cx="852" cy="373.1" r="3.4" fill="#b01220" stroke="#cc5a8c" stroke-width="1.1" stroke-opacity="0.8"/>
<circle cx="878.8" cy="374" r="3.4" fill="#b01220" stroke="#cc5a8c" stroke-width="1.1" stroke-opacity="0.8"/>
<circle cx="889.7" cy="373.1" r="3.4" fill="#b01220" stroke="#cc5a8c" stroke-width="1.1" stroke-opacity="0.8"/>
<circle cx="897.8" cy="369.9" r="3.4" fill="#b01220" stroke="#cc5a8c" stroke-width="1.1" stroke-opacity="0.8"/>
<circle cx="861.1" cy="378.4" r="3.4" fill="#b01220" stroke="#cc5a8c" stroke-width="1.1" stroke-opacity="0.8"/>
<circle cx="886.2" cy="380.8" r="3.4" fill="#b01220" stroke="#cc5a8c" stroke-width="1.1" stroke-opacity="0.8"/>
<circle cx="872.6" cy="384" r="3.4" fill="#b01220" stroke="#cc5a8c" stroke-width="1.1" stroke-opacity="0.8"/>
</svg></body></html>
